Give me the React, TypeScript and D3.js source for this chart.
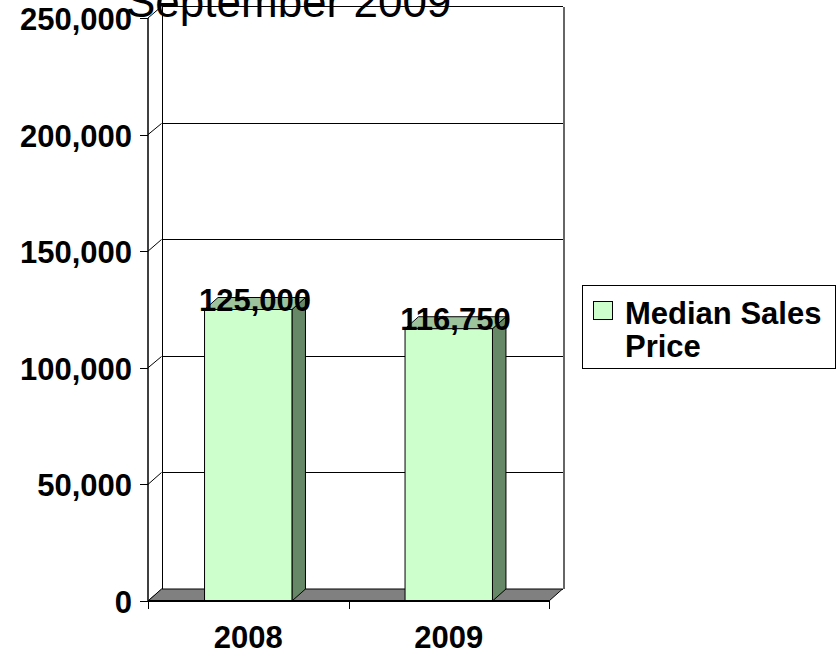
import React from "react";
import * as d3 from "d3";

// Chart data
const categories = ["2008", "2009"];
const medianPrices = [125000, 116750];
const yTicks = [0, 50000, 100000, 150000, 200000, 250000];
const seriesName = ["Median Sales", "Price"];
const titleText = "September 2009";

const W = 839;
const H = 654;
const FONT = "'Liberation Sans', Arial, sans-serif";

// 3D depth offset of the plot (back plane relative to front plane)
const DX = 13.5;
const DY = -12;

const FRONT_FILL = "#CCFFCC";
const TOP_FILL = "#9DC39D";
const SIDE_FILL = "#668866";
const FLOOR_FILL = "#808080";

// snap a coordinate onto the pixel grid for crisp 1px lines
const px = (v: number) => Math.round(v) + 0.5;

export default function App() {
  const x = d3
    .scaleBand<string>()
    .domain(categories)
    .range([148, 549])
    .paddingInner(0.564)
    .paddingOuter(0.282);
  const slot = d3.scaleBand<string>().domain(categories).range([148, 549]);
  const y = d3.scaleLinear().domain([0, 250000]).range([601, 18]);
  const fmt = d3.format(",");

  const x0 = 148;
  const x1 = 549;
  const y0 = y(0);
  const yTop = y(250000);

  const pts = (arr: [number, number][]) => arr.map((p) => p.join(",")).join(" ");

  return (
    <svg
      width={W}
      height={H}
      style={{ position: "absolute", left: 0, top: 0, background: "#fff" }}
      fontFamily={FONT}
    >
      {/* back wall gridlines */}
      {yTicks.map((t) => (
        <line
          key={"g" + t}
          x1={x0 + DX}
          x2={x1 + DX}
          y1={px(y(t) + DY)}
          y2={px(y(t) + DY)}
          stroke="#000"
          strokeWidth={1}
          shapeRendering="crispEdges"
        />
      ))}
      {/* left wall diagonals */}
      {yTicks.map((t) => (
        <line
          key={"d" + t}
          x1={x0}
          x2={x0 + DX}
          y1={y(t)}
          y2={px(y(t) + DY)}
          stroke="#000"
          strokeWidth={1}
        />
      ))}
      {/* wall edges */}
      <line
        x1={px(x0 + DX)}
        x2={px(x0 + DX)}
        y1={px(yTop + DY)}
        y2={y0 + DY}
        stroke="#000"
        shapeRendering="crispEdges"
      />
      <line
        x1={px(x1 + DX)}
        x2={px(x1 + DX)}
        y1={px(yTop + DY)}
        y2={y0 + DY}
        stroke="#666"
        strokeWidth={2}
        shapeRendering="crispEdges"
      />

      {/* floor */}
      <polygon
        points={pts([
          [x0, y0],
          [x0 + DX, y0 + DY],
          [x1 + DX, y0 + DY],
          [x1, y0],
        ])}
        fill={FLOOR_FILL}
        stroke="#000"
        strokeWidth={1}
      />

      {/* bars */}
      {categories.map((c, i) => {
        const bx = x(c)!;
        const bw = x.bandwidth();
        const by = y(medianPrices[i]);
        return (
          <g key={c}>
            <polygon
              points={pts([
                [bx + bw, by],
                [bx + bw + DX, by + DY],
                [bx + bw + DX, y0 + DY],
                [bx + bw, y0],
              ])}
              fill={SIDE_FILL}
              stroke="#000"
              strokeWidth={1}
            />
            <polygon
              points={pts([
                [bx, by],
                [bx + DX, by + DY],
                [bx + bw + DX, by + DY],
                [bx + bw, by],
              ])}
              fill={TOP_FILL}
              stroke="#000"
              strokeWidth={1}
            />
            <rect x={bx} y={by} width={bw} height={y0 - by} fill={FRONT_FILL} stroke="#000" strokeWidth={1} />
          </g>
        );
      })}

      {/* floor front edge */}
      <line x1={x0} x2={x1} y1={y0} y2={y0} stroke="#000" strokeWidth={2} />
      {/* value axis */}
      <line x1={x0} x2={x0} y1={yTop} y2={y0} stroke="#000" strokeWidth={1.5} />
      {yTicks.map((t) => (
        <g key={"t" + t}>
          <line x1={x0 - 8} x2={x0} y1={px(y(t))} y2={px(y(t))} stroke="#000" shapeRendering="crispEdges" />
          <text
            x={132}
            y={y(t) + 12}
            textAnchor="end"
            fontSize={31}
            fontWeight="bold"
            fill="#000"
          >
            {fmt(t)}
          </text>
        </g>
      ))}
      {/* category axis ticks */}
      {[x0, ...categories.map((c) => slot(c)! + slot.bandwidth())].map((tx, i) => (
        <line
          key={"ct" + i}
          x1={px(tx)}
          x2={px(tx)}
          y1={y0}
          y2={y0 + 8}
          stroke="#000"
          shapeRendering="crispEdges"
        />
      ))}
      {categories.map((c) => (
        <text
          key={"cl" + c}
          x={slot(c)! + slot.bandwidth() / 2}
          y={648}
          textAnchor="middle"
          fontSize={31}
          fontWeight="bold"
          fill="#000"
        >
          {c}
        </text>
      ))}

      {/* data labels */}
      {categories.map((c, i) => (
        <text
          key={"v" + c}
          x={x(c)! + x.bandwidth() / 2 + DX / 2}
          y={y(medianPrices[i]) + 1}
          textAnchor="middle"
          fontSize={31}
          fontWeight="bold"
          fill="#000"
        >
          {fmt(medianPrices[i])}
        </text>
      ))}

      {/* title (second line of the chart heading, partly above the top edge) */}
      <text x={126} y={17} fontSize={44} fill="#000">
        {titleText}
      </text>

      {/* legend */}
      <rect x={582.5} y={285.5} width={253} height={83} fill="#fff" stroke="#000" strokeWidth={1} />
      <rect x={593.5} y={301.5} width={19} height={18} fill={FRONT_FILL} stroke="#000" strokeWidth={1} />
      <text x={625} y={324} fontSize={31} fontWeight="bold" fill="#000">
        {seriesName[0]}
      </text>
      <text x={625} y={357} fontSize={31} fontWeight="bold" fill="#000">
        {seriesName[1]}
      </text>
    </svg>
  );
}
